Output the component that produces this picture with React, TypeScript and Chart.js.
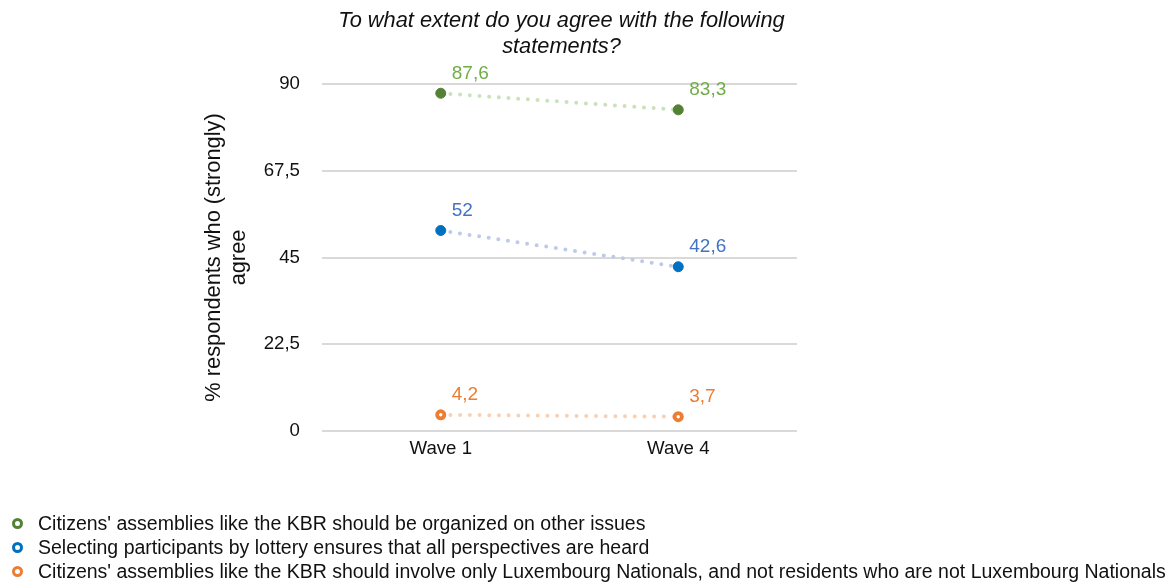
import React, { useEffect, useRef } from "react";
import { Chart, registerables } from "chart.js";

Chart.register(...registerables);

const categories = ["Wave 1", "Wave 4"];
const seriesNames = [
  "Citizens' assemblies like the KBR should be organized on other issues",
  "Selecting participants by lottery ensures that all perspectives are heard",
  "Citizens' assemblies like the KBR should involve only Luxembourg Nationals, and not residents who are not Luxembourg Nationals",
];
const otherIssues = [87.6, 83.3];
const lottery = [52, 42.6];
const nationalsOnly = [4.2, 3.7];
const yTicks = [0, 22.5, 45, 67.5, 90];
const chartTitle = ["To what extent do you agree with the following", "statements?"];
const yTitle = ["% respondents who (strongly)", "agree"];

const pointColors = ["#548235", "#0070c0", "#ed7d31"];
const lineColors = ["#c9e2b9", "#bccbe9", "#f9d0b3"];
const labelColors = ["#70ad47", "#4472c4", "#ed7d31"];

const FONT = "'Liberation Sans', Arial, Helvetica, sans-serif";
const fmt = (v: number) => String(v).replace(".", ",");

const labelPlugin = {
  id: "valueLabels",
  afterDatasetsDraw(chart: any) {
    const ctx = chart.ctx;
    ctx.save();
    ctx.font = `19px ${FONT}`;
    ctx.textAlign = "left";
    ctx.textBaseline = "alphabetic";
    chart.data.datasets.forEach((ds: any, i: number) => {
      const meta = chart.getDatasetMeta(i);
      meta.data.forEach((pt: any, j: number) => {
        ctx.fillStyle = labelColors[i];
        ctx.fillText(fmt(ds.data[j]), pt.x + 11, pt.y - 14.5);
      });
    });
    ctx.restore();
  },
};

const titlePlugin = {
  id: "centeredTitle",
  afterDraw(chart: any) {
    const ctx = chart.ctx;
    const { left, right } = chart.chartArea;
    const cx = (left + right) / 2 + 2;
    ctx.save();
    ctx.font = `italic 21.8px ${FONT}`;
    ctx.fillStyle = "#111";
    ctx.textAlign = "center";
    ctx.textBaseline = "middle";
    chartTitle.forEach((line, i) => ctx.fillText(line, cx, 21 + i * 26));
    ctx.restore();
  },
};

export default function App() {
  const ref = useRef<HTMLCanvasElement | null>(null);
  useEffect(() => {
    if (!ref.current) return;
    const series = [otherIssues, lottery, nationalsOnly];
    const chart = new Chart(ref.current, {
      type: "line",
      data: {
        labels: categories,
        datasets: series.map((d, i) => ({
          label: seriesNames[i],
          data: d,
          borderColor: lineColors[i],
          borderWidth: 4,
          borderDash: [0, 9.7],
          borderCapStyle: "round",
          fill: false,
          pointRadius: i === 2 ? 3.6 : 5,
          pointBorderWidth: i === 2 ? 3.8 : 1,
          pointBackgroundColor: i === 2 ? "#ffffff" : pointColors[i],
          pointBorderColor: pointColors[i],
        })),
      },
      options: {
        animation: false,
        responsive: true,
        maintainAspectRatio: false,
        layout: { padding: { left: 0, right: 378, top: 84, bottom: 0 } },
        plugins: {
          legend: { display: false },
          title: { display: false },
          tooltip: { enabled: false },
        },
        scales: {
          x: {
            offset: true,
            grid: { display: false, drawTicks: false },
            border: { display: false },
            ticks: { color: "#111", padding: 7, font: { size: 18.67, family: FONT } },
            afterFit: (s: any) => {
              s.height = 154;
            },
          },
          y: {
            min: 0,
            max: 90,
            afterBuildTicks: (s: any) => {
              s.ticks = yTicks.map((v) => ({ value: v }));
            },
            grid: { color: "#d9d9d9", lineWidth: 2, drawTicks: false },
            border: { display: false },
            ticks: {
              color: "#111",
              padding: 22,
              font: { size: 18.67, family: FONT },
              callback: (v: any) => fmt(Number(v)),
            },
            title: {
              display: true,
              text: yTitle,
              color: "#111",
              font: { size: 21.8, family: FONT, lineHeight: 1.17 },
              padding: { top: 201, bottom: 0 },
            },
            afterFit: (s: any) => {
              s.width = 322;
            },
          },
        },
      },
      plugins: [labelPlugin, titlePlugin],
    } as any);
    return () => chart.destroy();
  }, []);

  return (
    <div style={{ position: "fixed", left: 0, top: 0, width: 1175, height: 585, background: "#fff" }}>
      <canvas ref={ref} />
      <div
        style={{
          position: "absolute",
          left: 12,
          top: 511,
          fontFamily: FONT,
          fontSize: 19.5,
          color: "#111",
          whiteSpace: "nowrap",
        }}
      >
        {seriesNames.map((name, i) => (
          <div key={i} style={{ display: "flex", alignItems: "center", height: 24 }}>
            <span
              style={{
                display: "inline-block",
                boxSizing: "border-box",
                width: 11,
                height: 11,
                borderRadius: "50%",
                border: `3px solid ${pointColors[i]}`,
                marginRight: 15,
                background: "#fff",
              }}
            />
            <span>{name}</span>
          </div>
        ))}
      </div>
    </div>
  );
}
